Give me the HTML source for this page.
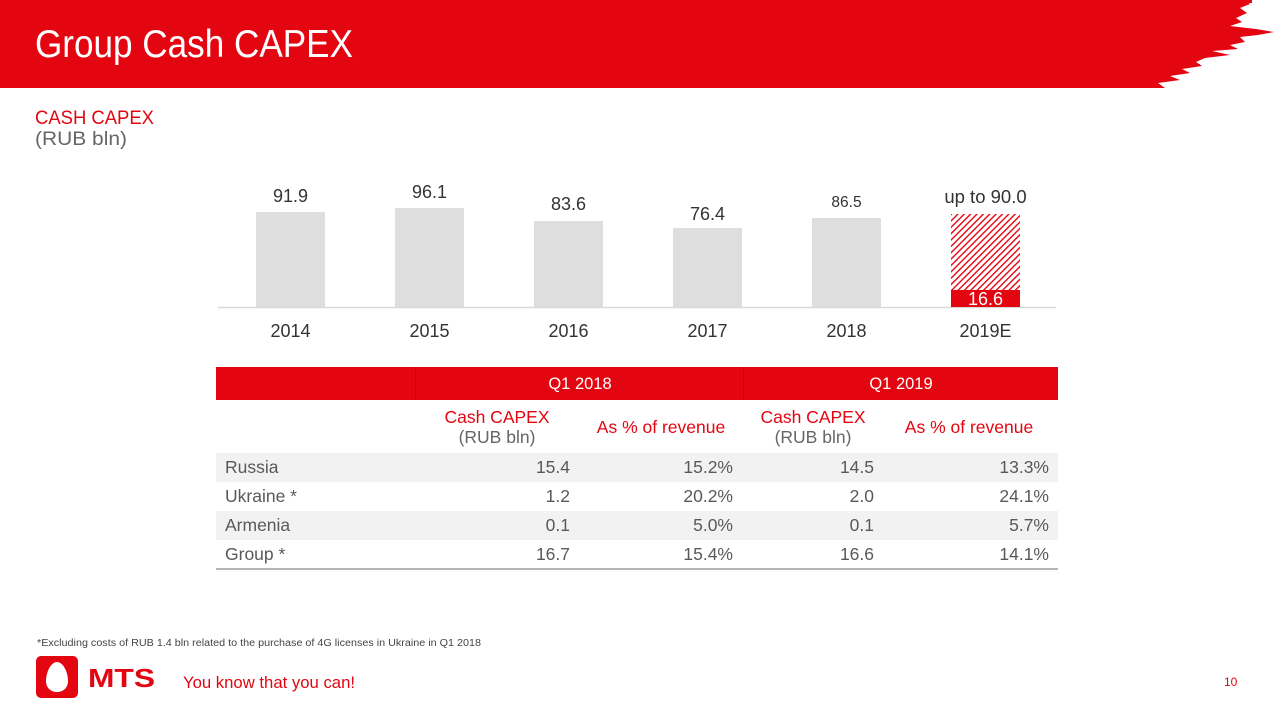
<!DOCTYPE html>
<html>
<head>
<meta charset="utf-8">
<style>
  html,body{margin:0;padding:0;background:#fff;}
  body{width:1280px;height:720px;overflow:hidden;}
  svg{display:block;}
  text{font-family:"Liberation Sans", Arial, sans-serif;}
</style>
</head>
<body>
<svg width="1280" height="720" viewBox="0 0 1280 720" xmlns="http://www.w3.org/2000/svg">
  <defs>
    <pattern id="hatch" patternUnits="userSpaceOnUse" width="4.5" height="4.5" patternTransform="rotate(45)">
      <rect x="0" y="0" width="4.5" height="4.5" fill="#fff"/>
      <rect x="0" y="0" width="1.4" height="4.5" fill="#e30611"/>
    </pattern>
  </defs>

  <!-- Header banner -->
  <path fill="#e30611" d="M0,0 L1246,0 L1250,4 L1240,8 L1247,13 L1236,18 L1242,22 L1230,26 L1256,29 L1274,32 L1258,35 L1240,37 L1245,42 L1230,45 L1238,49 L1212,51 L1230,55 L1205,58 L1196,62 L1202,66 L1182,69 L1190,73 L1170,76 L1180,80 L1158,83 L1165,88 L0,88 Z"/>
  <g fill="#e30611">
    <rect x="1205" y="30" width="40" height="3"/>
    <rect x="1215" y="20" width="18" height="2"/>
    <rect x="1230" y="10" width="12" height="2"/>
    <rect x="1170" y="64" width="30" height="2"/>
    <rect x="1150" y="78" width="25" height="2"/>
    <rect x="1240" y="0" width="12" height="3"/>
  </g>
  <text x="35" y="57" font-size="39" fill="#fff" textLength="318" lengthAdjust="spacingAndGlyphs">Group Cash CAPEX</text>

  <!-- Subtitle -->
  <text x="35" y="124" font-size="19" fill="#e30611" textLength="119" lengthAdjust="spacingAndGlyphs">CASH CAPEX</text>
  <text x="35" y="145" font-size="19" fill="#666" textLength="92" lengthAdjust="spacingAndGlyphs">(RUB bln)</text>

  <!-- Bar chart -->
  <line x1="218" y1="307.5" x2="1056" y2="307.5" stroke="#d9d9d9" stroke-width="1.5"/>
  <rect x="256" y="212" width="69" height="95" fill="#dedede"/>
  <rect x="395" y="208" width="69" height="99" fill="#dedede"/>
  <rect x="534" y="221" width="69" height="86" fill="#dedede"/>
  <rect x="673" y="228" width="69" height="79" fill="#dedede"/>
  <rect x="812" y="218" width="69" height="89" fill="#dedede"/>
  <rect x="951" y="214" width="69" height="76" fill="url(#hatch)"/>
  <rect x="951" y="290" width="69" height="17" fill="#e30611"/>

  <g font-size="18" fill="#333" text-anchor="middle">
    <text x="290.5" y="202">91.9</text>
    <text x="429.5" y="198">96.1</text>
    <text x="568.5" y="210">83.6</text>
    <text x="707.5" y="220">76.4</text>
    <text x="846.5" y="207" font-size="15.5">86.5</text>
    <text x="985.5" y="203" font-size="18.5">up to 90.0</text>
    <text x="985.5" y="305" fill="#fff">16.6</text>
    <text x="290.5" y="337">2014</text>
    <text x="429.5" y="337">2015</text>
    <text x="568.5" y="337">2016</text>
    <text x="707.5" y="337">2017</text>
    <text x="846.5" y="337">2018</text>
    <text x="985.5" y="337">2019E</text>
  </g>

  <!-- Table -->
  <rect x="216" y="367" width="842" height="33" fill="#e30611"/>
  <line x1="415.5" y1="367" x2="415.5" y2="400" stroke="#c8040f" stroke-width="1"/>
  <line x1="743.5" y1="367" x2="743.5" y2="400" stroke="#c8040f" stroke-width="1"/>
  <g font-size="16.5" fill="#fff" text-anchor="middle">
    <text x="580" y="389">Q1 2018</text>
    <text x="901" y="389">Q1 2019</text>
  </g>

  <g font-size="17.5" fill="#e30611" text-anchor="middle">
    <text x="497" y="423">Cash CAPEX</text>
    <text x="661" y="433">As % of revenue</text>
    <text x="813" y="423">Cash CAPEX</text>
    <text x="969" y="433">As % of revenue</text>
  </g>
  <g font-size="17.5" fill="#666" text-anchor="middle">
    <text x="497" y="443">(RUB bln)</text>
    <text x="813" y="443">(RUB bln)</text>
  </g>

  <rect x="216" y="453" width="842" height="29" fill="#f2f2f2"/>
  <rect x="216" y="511" width="842" height="29" fill="#f2f2f2"/>
  <line x1="216" y1="569" x2="1058" y2="569" stroke="#b5b5b5" stroke-width="2"/>

  <g font-size="17.5" fill="#595959">
    <text x="225" y="473">Russia</text>
    <text x="225" y="502">Ukraine *</text>
    <text x="225" y="531">Armenia</text>
    <text x="225" y="560">Group *</text>
  </g>
  <g font-size="17.5" fill="#595959" text-anchor="end">
    <text x="570" y="473">15.4</text>
    <text x="733" y="473">15.2%</text>
    <text x="874" y="473">14.5</text>
    <text x="1049" y="473">13.3%</text>

    <text x="570" y="502">1.2</text>
    <text x="733" y="502">20.2%</text>
    <text x="874" y="502">2.0</text>
    <text x="1049" y="502">24.1%</text>

    <text x="570" y="531">0.1</text>
    <text x="733" y="531">5.0%</text>
    <text x="874" y="531">0.1</text>
    <text x="1049" y="531">5.7%</text>

    <text x="570" y="560">16.7</text>
    <text x="733" y="560">15.4%</text>
    <text x="874" y="560">16.6</text>
    <text x="1049" y="560">14.1%</text>
  </g>

  <!-- Footnote -->
  <text x="37" y="646" font-size="10" fill="#444" textLength="444" lengthAdjust="spacingAndGlyphs">*Excluding costs of RUB 1.4 bln related to the purchase of 4G licenses in Ukraine in Q1 2018</text>

  <!-- Logo -->
  <rect x="36" y="656" width="42" height="42" rx="5" fill="#e30611"/>
  <path d="M57,662 C51,662 46,672 46,681 C46,688 51,692 57,692 C63,692 68,688 68,681 C68,672 63,662 57,662 Z" fill="#fff"/>
  <text x="88" y="687" font-size="26" font-weight="bold" fill="#e30611" textLength="67" lengthAdjust="spacingAndGlyphs">MTS</text>
  <text x="183" y="688" font-size="17" fill="#e30611" textLength="172" lengthAdjust="spacingAndGlyphs">You know that you can!</text>

  <!-- Page number -->
  <text x="1224" y="686" font-size="12" fill="#e30611">10</text>
</svg>
</body>
</html>
